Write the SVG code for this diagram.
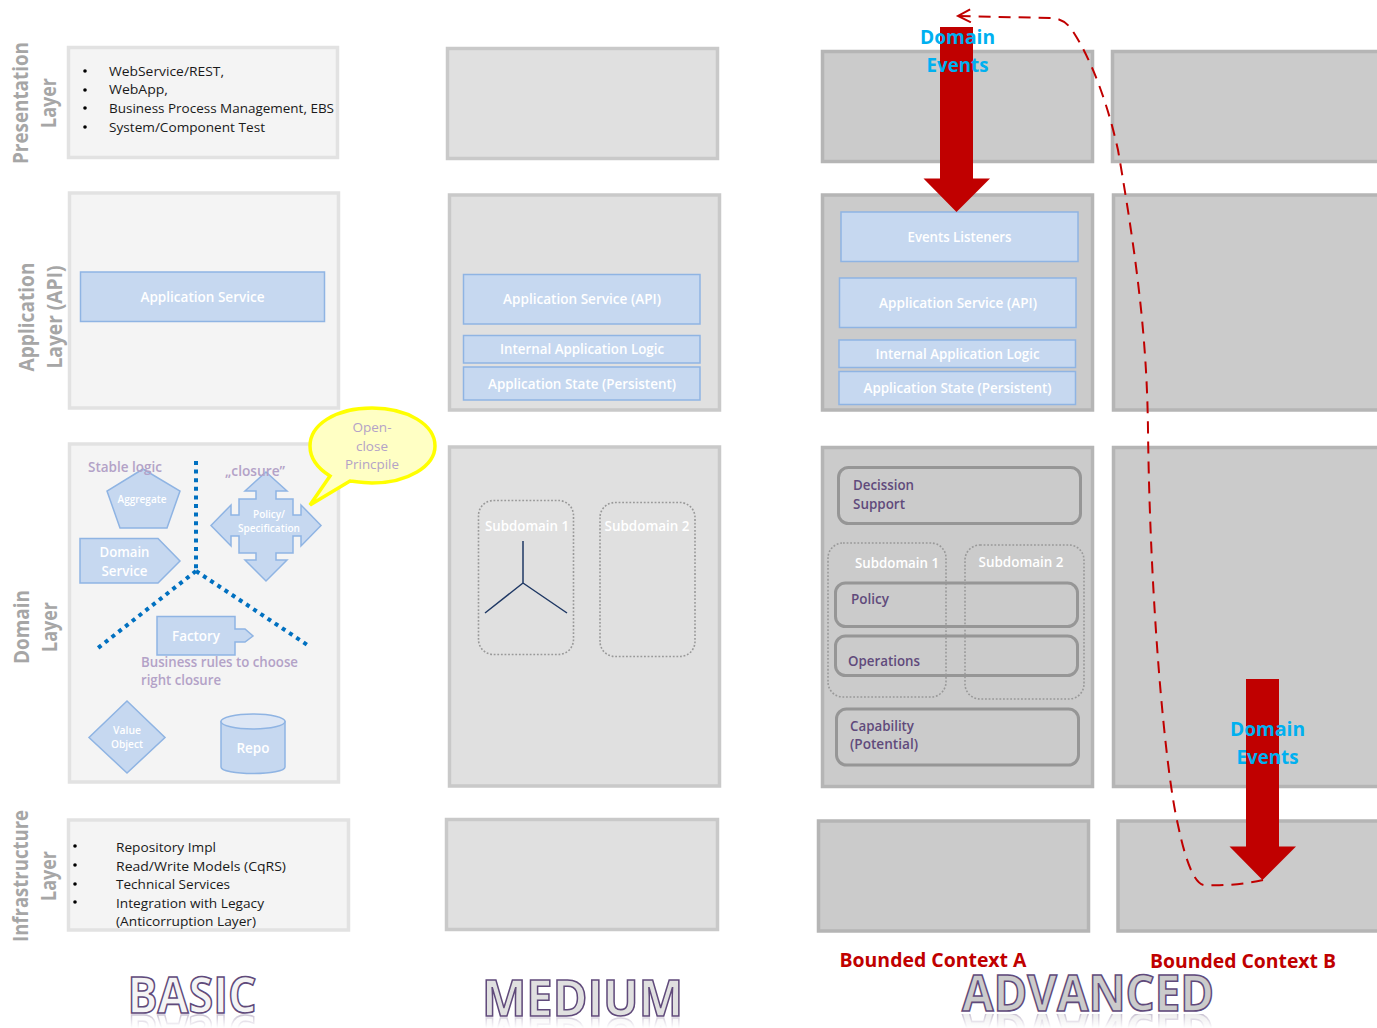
<svg xmlns="http://www.w3.org/2000/svg" width="1377" height="1028" viewBox="0 0 1377 1028">
<style>
text{font-family:"Open Sans","Noto Sans","Liberation Sans",sans-serif}
.lb{fill:#f4f4f4;stroke:#e2e2e2;stroke-width:3.5}
.md{fill:#e0e0e0;stroke:#c9c9c9;stroke-width:3.5}
.ad{fill:#cbcbcb;stroke:#b5b5b5;stroke-width:3.5}
.bl{fill:#c6d8f0;stroke:#8fb4e3;stroke-width:1.5}
.w{fill:#fff;font-weight:600;text-anchor:middle}
.layer{fill:#a6a6a6;font-size:21px;font-weight:700;text-anchor:middle}
.lst{fill:#1a1a1a;font-size:13.5px}
.pu{fill:#b3a2c7;font-size:14px;font-weight:600}
.dk{fill:#604a7b;font-size:14px;font-weight:600}
.ev{fill:#00b0f0;font-size:20px;font-weight:700;text-anchor:middle}
.bc{fill:#c00000;font-size:20px;font-weight:700;text-anchor:middle}
.ttl{font-size:50px;font-weight:700;stroke:#604a7b;stroke-width:1.6;text-anchor:middle}
.sub{fill:none;stroke:#999;stroke-width:1.6;stroke-dasharray:1.8 1.8}
.pill{fill:none;stroke:#969696;stroke-width:3}
.dot{fill:none;stroke:#0070c0;stroke-width:4;stroke-dasharray:4 4.6}
</style>
<defs>
<marker id="open" markerWidth="18" markerHeight="16" refX="15" refY="7" orient="auto" markerUnits="userSpaceOnUse"><path d="M2 1L15 7L3 14" fill="none" stroke="#c00000" stroke-width="2"/></marker>
<linearGradient id="fade" x1="0" y1="0" x2="0" y2="1"><stop offset="0" stop-color="#fff" stop-opacity=".45"/><stop offset="1" stop-color="#fff" stop-opacity="0"/></linearGradient>
<mask id="m1" maskUnits="userSpaceOnUse" x="0" y="1014" width="1377" height="14"><rect x="0" y="1014" width="1377" height="14" fill="url(#fade)"/></mask>
</defs>
<g id="layer-labels">
<text class="layer" transform="translate(28,103) rotate(-90)" textLength="122" lengthAdjust="spacingAndGlyphs">Presentation</text>
<text class="layer" transform="translate(56,103) rotate(-90)" textLength="50" lengthAdjust="spacingAndGlyphs">Layer</text>
<text class="layer" transform="translate(34,317) rotate(-90)" textLength="109" lengthAdjust="spacingAndGlyphs">Application</text>
<text class="layer" transform="translate(62,317) rotate(-90)" textLength="103" lengthAdjust="spacingAndGlyphs">Layer (API)</text>
<text class="layer" transform="translate(29,627) rotate(-90)" textLength="74" lengthAdjust="spacingAndGlyphs">Domain</text>
<text class="layer" transform="translate(57,627) rotate(-90)" textLength="50" lengthAdjust="spacingAndGlyphs">Layer</text>
<text class="layer" transform="translate(28,876) rotate(-90)" textLength="132" lengthAdjust="spacingAndGlyphs">Infrastructure</text>
<text class="layer" transform="translate(56,876) rotate(-90)" textLength="50" lengthAdjust="spacingAndGlyphs">Layer</text>
</g>
<g id="basic-presentation">
<rect class="lb" x="68.500" y="47.500" width="269" height="110"/>
<circle cx="85" cy="71" r="1.800"/><circle cx="85" cy="90" r="1.800"/><circle cx="85" cy="108" r="1.800"/><circle cx="85" cy="127" r="1.800"/>
<text class="lst" x="109" y="76" textLength="115" lengthAdjust="spacingAndGlyphs">WebService/REST,</text>
<text class="lst" x="109" y="94" textLength="59" lengthAdjust="spacingAndGlyphs">WebApp,</text>
<text class="lst" x="109" y="113" textLength="225" lengthAdjust="spacingAndGlyphs">Business Process Management, EBS</text>
<text class="lst" x="109" y="132" textLength="156" lengthAdjust="spacingAndGlyphs">System/Component Test</text>
</g>
<g id="basic-application">
<rect class="lb" x="69.500" y="193" width="269" height="215"/>
<rect class="bl" x="80.500" y="272" width="244" height="49.500"/>
<text class="w" x="202.500" y="302" font-size="14" textLength="124" lengthAdjust="spacingAndGlyphs">Application Service</text>
</g>
<g id="basic-domain">
<rect class="lb" x="69.500" y="444" width="269" height="338"/>
<path class="dot" d="M196 461V571M196 571L98 648M196 571L309 646"/>
<g id="aggregate"><path class="bl" d="M143 469L180 491L167 528H120L107 491Z"/><text class="w" x="142" y="503" font-size="10.500" textLength="49" lengthAdjust="spacingAndGlyphs">Aggregate</text></g>
<g id="domain-service"><path class="bl" d="M80 538.500H158L180 561L158 583H80Z"/><text class="w" x="124.500" y="557" font-size="14" textLength="50" lengthAdjust="spacingAndGlyphs">Domain</text><text class="w" x="124.500" y="576" font-size="14" textLength="46" lengthAdjust="spacingAndGlyphs">Service</text></g>
<g id="policy"><path class="bl" d="M266 472L287 491H276V499H293V515H301V505L321 525.500L301 546V536H293V553H276V560H287L266 581L245 560H256V553H239V536H231V546L211 525.500L231 505V515H239V499H256V491H245Z"/><text class="w" x="269" y="518" font-size="10.500" textLength="32" lengthAdjust="spacingAndGlyphs">Policy/</text><text class="w" x="269" y="532" font-size="10.500" textLength="62" lengthAdjust="spacingAndGlyphs">Specification</text></g>
<g id="factory"><path class="bl" d="M157 616.500H235V629H245L253 636L245 642H235V655H157Z"/><text class="w" x="196" y="641" font-size="14" textLength="48" lengthAdjust="spacingAndGlyphs">Factory</text></g>
<g id="value-object"><path class="bl" d="M127 701L165 737.500L127 773L89 737.500Z"/><text class="w" x="127" y="734" font-size="10.500" textLength="28" lengthAdjust="spacingAndGlyphs">Value</text><text class="w" x="127" y="748" font-size="10.500" textLength="32" lengthAdjust="spacingAndGlyphs">Object</text></g>
<g id="repo"><path class="bl" d="M221 721.500V767C221 771 236 773.500 253 773.500S285 771 285 767V721.500Z"/><ellipse cx="253" cy="721.500" rx="32" ry="7.500" fill="#dce6f5" stroke="#8fb4e3" stroke-width="1.500"/><text class="w" x="253" y="753" font-size="14" textLength="33" lengthAdjust="spacingAndGlyphs">Repo</text></g>
<text class="pu" x="88" y="472" textLength="74" lengthAdjust="spacingAndGlyphs">Stable logic</text>
<text class="pu" x="225" y="476" textLength="60" lengthAdjust="spacingAndGlyphs">„closure”</text>
<text class="pu" x="141" y="667" textLength="157" lengthAdjust="spacingAndGlyphs">Business rules to choose</text>
<text class="pu" x="141" y="685" textLength="80" lengthAdjust="spacingAndGlyphs">right closure</text>
</g>
<g id="callout">
<path d="M372 408C335 408 310 425 310 446C310 461 322 471 330 476L310 505L350 481C358 482 365 483 372 483C408 483 435 466 435 446C435 425 408 408 372 408Z" fill="#ffffc4" stroke="#ffff00" stroke-width="3.500"/>
<text x="372" y="432" fill="#b3a2c7" font-size="13.500" text-anchor="middle" textLength="39" lengthAdjust="spacingAndGlyphs">Open-</text>
<text x="372" y="451" fill="#b3a2c7" font-size="13.500" text-anchor="middle" textLength="32" lengthAdjust="spacingAndGlyphs">close</text>
<text x="372" y="469" fill="#b3a2c7" font-size="13.500" text-anchor="middle" textLength="54" lengthAdjust="spacingAndGlyphs">Princpile</text>
</g>
<g id="basic-infrastructure">
<rect class="lb" x="68.500" y="820" width="280" height="110"/>
<circle cx="75" cy="846" r="1.800"/><circle cx="75" cy="865" r="1.800"/><circle cx="75" cy="884" r="1.800"/><circle cx="75" cy="902" r="1.800"/>
<text class="lst" x="116" y="852" textLength="100" lengthAdjust="spacingAndGlyphs">Repository Impl</text>
<text class="lst" x="116" y="871" textLength="170" lengthAdjust="spacingAndGlyphs">Read/Write Models (CqRS)</text>
<text class="lst" x="116" y="889" textLength="114" lengthAdjust="spacingAndGlyphs">Technical Services</text>
<text class="lst" x="116" y="908" textLength="148" lengthAdjust="spacingAndGlyphs">Integration with Legacy</text>
<text class="lst" x="116" y="926" textLength="140" lengthAdjust="spacingAndGlyphs">(Anticorruption Layer)</text>
</g>
<g id="medium-presentation"><rect class="md" x="447.500" y="48.500" width="270" height="110"/></g>
<g id="medium-application">
<rect class="md" x="449.500" y="195" width="270" height="215"/>
<rect class="bl" x="463.500" y="274.500" width="236.500" height="49.500"/>
<text class="w" x="582" y="304" font-size="14" textLength="158" lengthAdjust="spacingAndGlyphs">Application Service (API)</text>
<rect class="bl" x="463.500" y="335.500" width="236.500" height="27.500"/>
<text class="w" x="582" y="354" font-size="14" textLength="164" lengthAdjust="spacingAndGlyphs">Internal Application Logic</text>
<rect class="bl" x="463.500" y="367" width="236.500" height="33"/>
<text class="w" x="582" y="389" font-size="14" textLength="188" lengthAdjust="spacingAndGlyphs">Application State (Persistent)</text>
</g>
<g id="medium-domain">
<rect class="md" x="449.500" y="447" width="270" height="339"/>
<rect class="sub" x="478.500" y="500.500" width="95" height="154" rx="15"/>
<rect class="sub" x="600" y="502.500" width="95" height="154" rx="15"/>
<path d="M523 541V583M523 583L485 613M523 583L567 613" fill="none" stroke="#1f3864" stroke-width="1.500"/>
<text class="w" x="527" y="531" font-size="14" textLength="84" lengthAdjust="spacingAndGlyphs">Subdomain 1</text>
<text class="w" x="647" y="531" font-size="14" textLength="85" lengthAdjust="spacingAndGlyphs">Subdomain 2</text>
</g>
<g id="medium-infrastructure"><rect class="md" x="446.500" y="819.500" width="271" height="110"/></g>
<g id="a-presentation"><rect class="ad" x="822.500" y="51.500" width="270" height="110"/></g>
<g id="b-presentation"><rect class="ad" x="1112.500" y="51.500" width="270" height="110"/></g>
<g id="a-application">
<rect class="ad" x="822.500" y="195" width="270" height="215"/>
<rect class="bl" x="841" y="212" width="237" height="49.500"/>
<text class="w" x="959.500" y="242" font-size="13.500" textLength="104" lengthAdjust="spacingAndGlyphs">Events Listeners</text>
<rect class="bl" x="839.500" y="278" width="236.500" height="49.500"/>
<text class="w" x="958" y="308" font-size="14" textLength="158" lengthAdjust="spacingAndGlyphs">Application Service (API)</text>
<rect class="bl" x="839" y="340" width="236.500" height="27.500"/>
<text class="w" x="957.500" y="359" font-size="14" textLength="164" lengthAdjust="spacingAndGlyphs">Internal Application Logic</text>
<rect class="bl" x="839" y="371.500" width="236.500" height="33"/>
<text class="w" x="957.500" y="393" font-size="14" textLength="188" lengthAdjust="spacingAndGlyphs">Application State (Persistent)</text>
</g>
<g id="b-application"><rect class="ad" x="1113.500" y="195" width="270" height="215"/></g>
<g id="a-domain">
<rect class="ad" x="822.500" y="447.500" width="270" height="339"/>
<rect class="pill" x="838.500" y="467.500" width="242" height="56" rx="10"/>
<text class="dk" x="853" y="490" textLength="61" lengthAdjust="spacingAndGlyphs">Decission</text>
<text class="dk" x="853" y="509" textLength="52" lengthAdjust="spacingAndGlyphs">Support</text>
<rect class="pill" x="835.500" y="583" width="242" height="43.500" rx="10"/>
<text class="dk" x="851" y="604" textLength="38" lengthAdjust="spacingAndGlyphs">Policy</text>
<rect class="pill" x="835.500" y="636" width="242" height="39.500" rx="10"/>
<text class="dk" x="848" y="666" textLength="72" lengthAdjust="spacingAndGlyphs">Operations</text>
<rect class="pill" x="836.500" y="709" width="242" height="56" rx="10"/>
<text class="dk" x="850" y="731" textLength="64" lengthAdjust="spacingAndGlyphs">Capability</text>
<text class="dk" x="850" y="749" textLength="68" lengthAdjust="spacingAndGlyphs">(Potential)</text>
<rect class="sub" x="828" y="543" width="118" height="154" rx="15"/>
<rect class="sub" x="965" y="545" width="119" height="154" rx="15"/>
<text class="w" x="897" y="568" font-size="14" textLength="84" lengthAdjust="spacingAndGlyphs">Subdomain 1</text>
<text class="w" x="1021" y="567" font-size="14" textLength="85" lengthAdjust="spacingAndGlyphs">Subdomain 2</text>
</g>
<g id="b-domain"><rect class="ad" x="1113.500" y="447.500" width="270" height="339"/></g>
<g id="a-infrastructure"><rect class="ad" x="818.500" y="821" width="270" height="110"/></g>
<g id="b-infrastructure"><rect class="ad" x="1118" y="821" width="270" height="110"/></g>
<g id="connectors">
<path d="M940 27H973V178.500H990L956.500 212L923.500 178.500H940Z" fill="#c00000"/>
<path d="M1246 679H1279V846.500H1296L1262.500 880L1229.500 846.500H1246Z" fill="#c00000"/>
<path d="M1263 880C1245 884 1225 886 1204 885C1196 884 1187 868 1178 825C1165 770 1150 600 1148 430C1147 340 1137 260 1118 150C1108 105 1092 60 1072 30C1066 21 1058 18 1050 18L958 16" fill="none" stroke="#c00000" stroke-width="2" stroke-dasharray="12 8" marker-end="url(#open)"/>
</g>
<g id="annotations">
<text class="ev" x="957.500" y="44" textLength="75" lengthAdjust="spacingAndGlyphs">Domain</text>
<text class="ev" x="957.500" y="72" textLength="62" lengthAdjust="spacingAndGlyphs">Events</text>
<text class="ev" x="1267.500" y="736" textLength="75" lengthAdjust="spacingAndGlyphs">Domain</text>
<text class="ev" x="1267.500" y="764" textLength="62" lengthAdjust="spacingAndGlyphs">Events</text>
<text class="bc" x="933" y="967" textLength="187" lengthAdjust="spacingAndGlyphs">Bounded Context A</text>
<text class="bc" x="1243" y="968" textLength="186" lengthAdjust="spacingAndGlyphs">Bounded Context B</text>
</g>
<g id="titles">
<text id="t1" class="ttl" x="192" y="1013" fill="#f4f4f4" textLength="129" lengthAdjust="spacingAndGlyphs">BASIC</text>
<text id="t2" class="ttl" x="582.500" y="1016" fill="#e0e0e0" textLength="201" lengthAdjust="spacingAndGlyphs">MEDIUM</text>
<text id="t3" class="ttl" x="1088" y="1011" fill="#cbcbcb" textLength="252" lengthAdjust="spacingAndGlyphs">ADVANCED</text>
<g mask="url(#m1)" opacity=".75">
<use href="#t1" transform="translate(0,2028) scale(1,-1)"/>
<use href="#t2" transform="translate(0,2034) scale(1,-1)"/>
<use href="#t3" transform="translate(0,2024) scale(1,-1)"/>
</g>
</g>
</svg>
